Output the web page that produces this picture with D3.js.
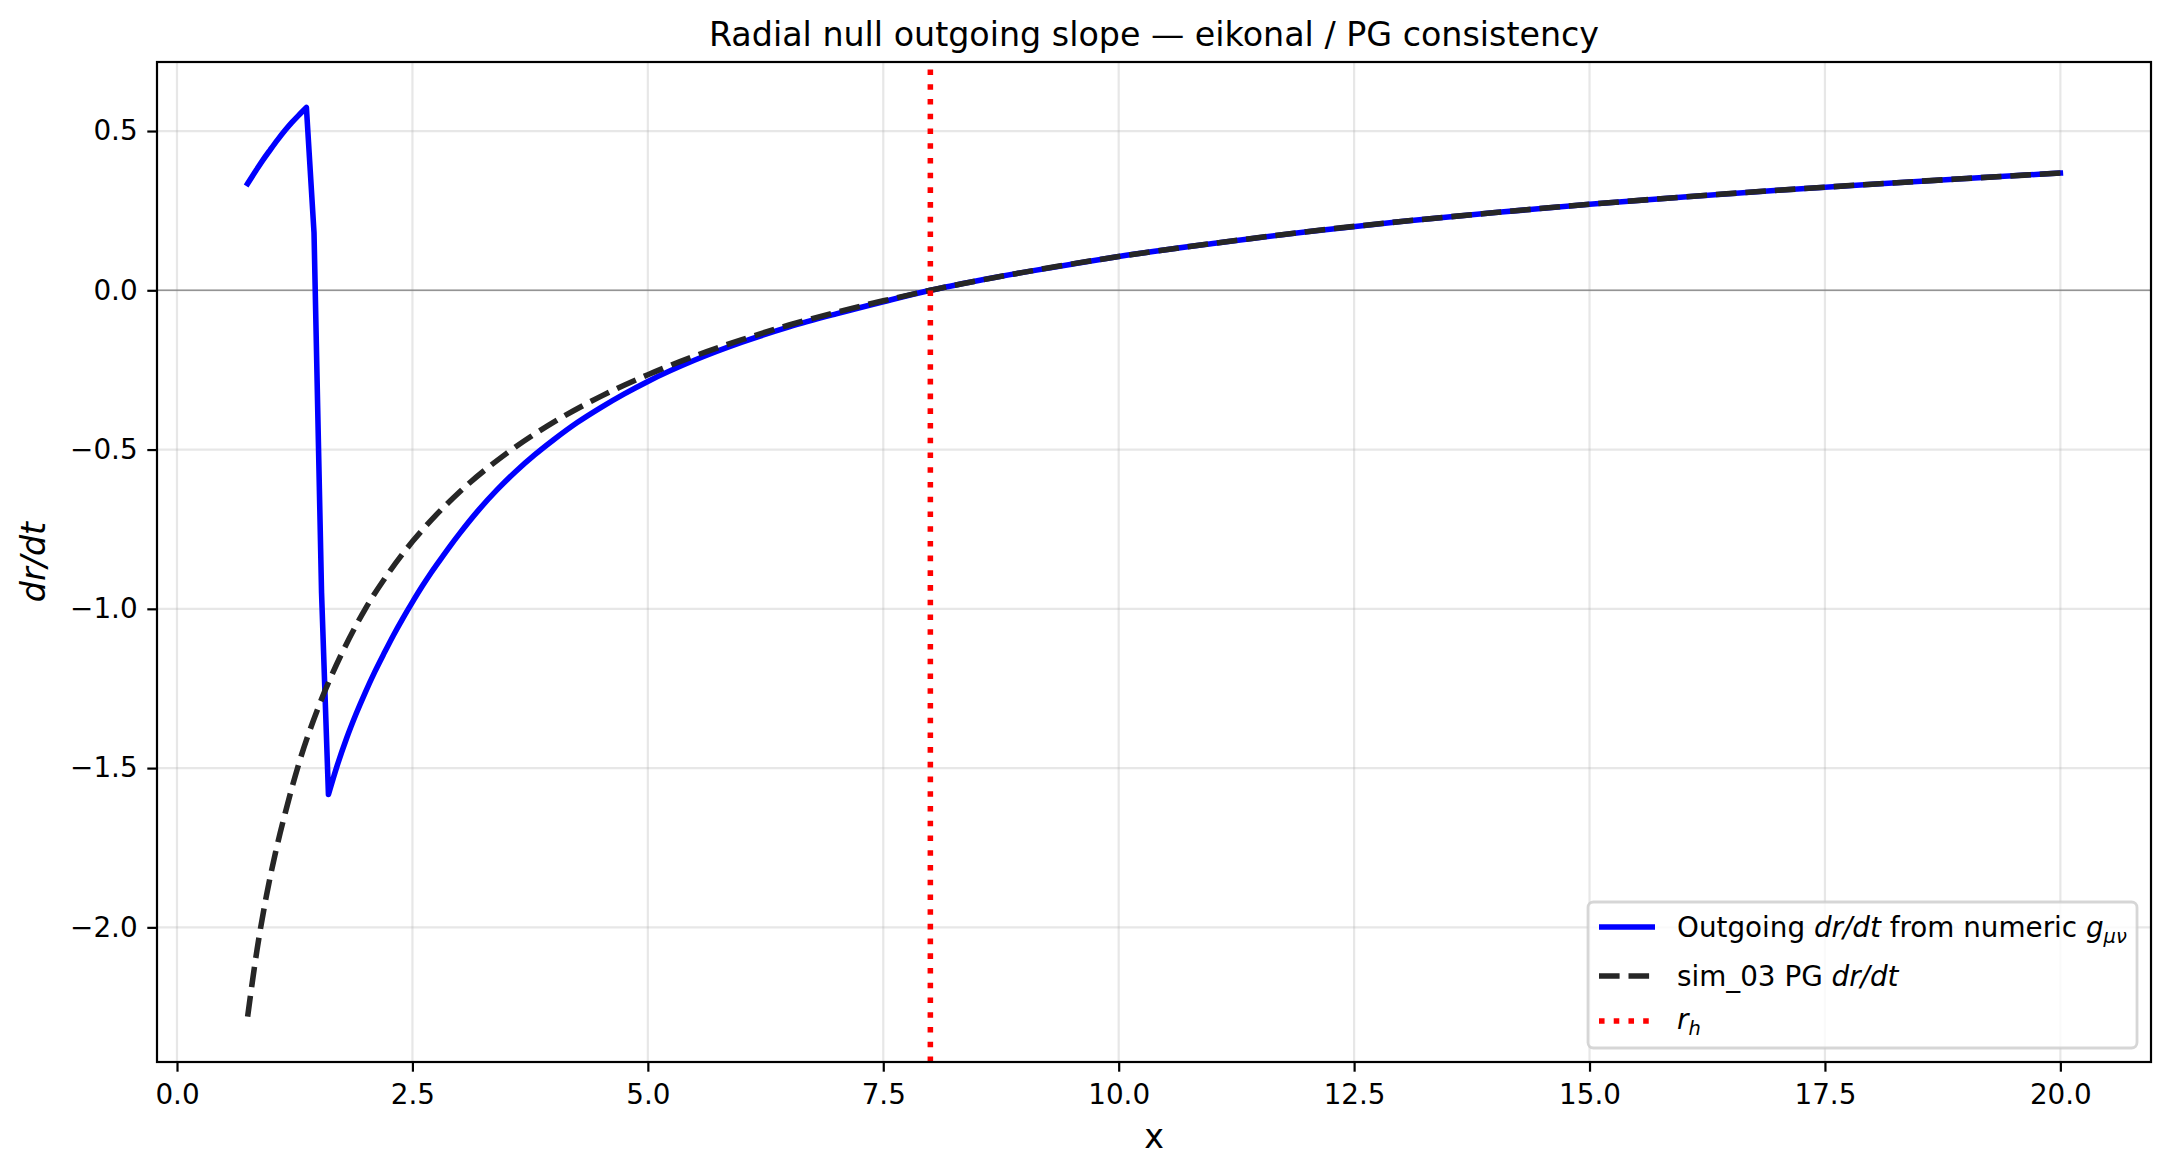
<!DOCTYPE html>
<html>
<head>
<meta charset="utf-8">
<script src="https://cdn.jsdelivr.net/npm/d3@7"></script>
<style>
  body { margin: 0; background: #fff; }
  svg text { font-family: "DejaVu Sans", sans-serif; fill: #000; }
</style>
</head>
<body>
<div id="chart"></div>
<script>
// Data

// outgoing dr/dt from the numeric metric (blue)
const blueX = [0.75, 0.83, 0.91, 0.99, 1.07, 1.15, 1.22, 1.30, 1.374,
  1.455, 1.535, 1.608,
  1.70, 1.80, 1.90, 2.00, 2.10, 2.20, 2.30, 2.40, 2.50,
  2.60, 2.70, 2.80, 2.90, 3.00, 3.20, 3.40, 3.60, 3.80, 4.00,
  4.25, 4.50, 4.75, 5.00, 5.50, 6.00, 6.50, 7.00, 7.50, 8.00,
  8.5, 9, 9.5, 10, 11, 12, 13, 14, 15, 16, 17, 18, 19, 20];
const blueY = [0.335, 0.372, 0.408, 0.441, 0.473, 0.503, 0.527, 0.552, 0.574,
  0.18, -0.95, -1.583,
  -1.493, -1.407, -1.331, -1.262, -1.198, -1.139, -1.082, -1.029, -0.979,
  -0.931, -0.886, -0.844, -0.803, -0.764, -0.691, -0.626, -0.568, -0.516, -0.469,
  -0.415, -0.368, -0.325, -0.286, -0.219, -0.163, -0.115, -0.074, -0.036, 0.0,
  0.030, 0.057, 0.082, 0.106, 0.147, 0.184, 0.216, 0.244, 0.270, 0.293, 0.314, 0.333, 0.351, 0.368];

// where the blue curve has sharp corners (peak and the bottom of the drop)
const bluePeakIndex = 8;
const blueDipIndex = 11;

// sim_03 PG dr/dt (dashed)
const pgX = [0.75, 0.85, 0.95, 1.05, 1.15, 1.3, 1.5, 1.75, 2.0,
  2.25, 2.5, 2.75, 3.0, 3.5, 4.0, 4.5, 5.0,
  5.5, 6.0, 6.5, 7.0, 7.5, 8.0,
  9, 10, 11, 12, 13, 14, 15, 16, 17, 18, 19, 20];
const pgY = [-2.28, -2.07, -1.90, -1.76, -1.64, -1.48, -1.31, -1.14, -1.00,
  -0.886, -0.789, -0.706, -0.633, -0.512, -0.414, -0.333, -0.265,
  -0.206, -0.155, -0.109, -0.069, -0.033, 0.0,
  0.057, 0.106, 0.147, 0.184, 0.216, 0.244, 0.270, 0.293, 0.314, 0.333, 0.351, 0.368];

const horizonR = 8.0;

const xTicks = [0, 2.5, 5, 7.5, 10, 12.5, 15, 17.5, 20];
const yTicks = [-2.0, -1.5, -1.0, -0.5, 0.0, 0.5];

const titleText = "Radial null outgoing slope \u2014 eikonal / PG consistency";

// Layout
const width = 2171;
const height = 1175;
const plot = { left: 157, right: 2151, top: 62, bottom: 1062 };

const svg = d3.select("#chart")
  .append("svg")
  .attr("width", width)
  .attr("height", height);

// matplotlib style 5% margins
function padded(vals) {
  const ext = d3.extent(vals);
  const m = (ext[1] - ext[0]) * 0.05;
  return [ext[0] - m, ext[1] + m];
}

const x = d3.scaleLinear()
  .domain(padded(blueX.concat(pgX)))
  .range([plot.left, plot.right]);

const y = d3.scaleLinear()
  .domain(padded(blueY.concat(pgY)))
  .range([plot.bottom, plot.top]);

const blueData = blueX.map((v, i) => ({ x: v, y: blueY[i] }));
const pgData = pgX.map((v, i) => ({ x: v, y: pgY[i] }));

// grid
const grid = svg.append("g").attr("class", "grid");
grid.selectAll("line.vx")
  .data(xTicks)
  .enter().append("line")
  .attr("x1", d => x(d)).attr("x2", d => x(d))
  .attr("y1", plot.top).attr("y2", plot.bottom)
  .attr("stroke", "#b0b0b0").attr("stroke-opacity", 0.3).attr("stroke-width", 2.2);
grid.selectAll("line.hy")
  .data(yTicks)
  .enter().append("line")
  .attr("x1", plot.left).attr("x2", plot.right)
  .attr("y1", d => y(d)).attr("y2", d => y(d))
  .attr("stroke", "#b0b0b0").attr("stroke-opacity", 0.3).attr("stroke-width", 2.2);

// zero line
svg.append("line")
  .attr("x1", plot.left).attr("x2", plot.right)
  .attr("y1", y(0)).attr("y2", y(0))
  .attr("stroke", "#808080").attr("stroke-opacity", 0.8).attr("stroke-width", 1.6);

svg.append("clipPath").attr("id", "clip")
  .append("rect")
  .attr("x", plot.left).attr("y", plot.top)
  .attr("width", plot.right - plot.left).attr("height", plot.bottom - plot.top);

const curves = svg.append("g").attr("clip-path", "url(#clip)");

const smooth = d3.line().curve(d3.curveMonotoneX).x(d => x(d.x)).y(d => y(d.y));
const straight = d3.line().x(d => x(d.x)).y(d => y(d.y));

// blue numeric curve: smooth pieces joined by straight segments at the corners
function bluePath(data) {
  const left = smooth(data.slice(0, bluePeakIndex + 1));
  const drop = straight(data.slice(bluePeakIndex, blueDipIndex + 1));
  const right = smooth(data.slice(blueDipIndex));
  return left + drop.replace(/^M/, "L") + right.replace(/^M/, "L");
}

curves.append("path")
  .datum(blueData)
  .attr("fill", "none")
  .attr("stroke", "#0000ff")
  .attr("stroke-width", 5.56)
  .attr("stroke-linejoin", "round")
  .attr("stroke-linecap", "square")
  .attr("d", bluePath);

// PG dashed curve
curves.append("path")
  .datum(pgData)
  .attr("fill", "none")
  .attr("stroke", "#262626")
  .attr("stroke-width", 5.56)
  .attr("stroke-dasharray", "20.6,8.9")
  .attr("stroke-linecap", "butt")
  .attr("d", smooth);

// horizon, drawn bottom to top like axvline
curves.append("line")
  .attr("x1", x(horizonR)).attr("x2", x(horizonR))
  .attr("y1", plot.bottom).attr("y2", plot.top)
  .attr("stroke", "#ff0000")
  .attr("stroke-width", 5.56)
  .attr("stroke-dasharray", "5.56,9.17");

// axes
const xAxis = d3.axisBottom(x)
  .tickValues(xTicks)
  .tickFormat(d3.format(".1f"))
  .tickSize(9.7)
  .tickPadding(13);

const yAxis = d3.axisLeft(y)
  .tickValues(yTicks)
  .tickFormat(d3.format(".1f"))
  .tickSize(9.7)
  .tickPadding(9.7);

const gx = svg.append("g")
  .attr("transform", `translate(0,${plot.bottom})`)
  .call(xAxis);
const gy = svg.append("g")
  .attr("transform", `translate(${plot.left},0)`)
  .call(yAxis);

[gx, gy].forEach(g => {
  g.select(".domain").remove();
  g.selectAll(".tick line").attr("stroke", "#000").attr("stroke-width", 2.2);
  g.selectAll(".tick text")
    .attr("font-family", "DejaVu Sans")
    .attr("font-size", 27.8)
    .attr("fill", "#000");
});

// spines
svg.append("rect")
  .attr("x", plot.left).attr("y", plot.top)
  .attr("width", plot.right - plot.left).attr("height", plot.bottom - plot.top)
  .attr("fill", "none")
  .attr("stroke", "#000")
  .attr("stroke-width", 2.2);

// title and labels
const midX = (plot.left + plot.right) / 2;
svg.append("text")
  .attr("x", midX).attr("y", 46)
  .attr("text-anchor", "middle")
  .attr("font-size", 33.3)
  .text(titleText);

svg.append("text")
  .attr("x", midX).attr("y", 1148)
  .attr("text-anchor", "middle")
  .attr("font-size", 33.3)
  .text("x");

svg.append("text")
  .attr("transform", `translate(45,${(plot.top + plot.bottom) / 2}) rotate(-90)`)
  .attr("text-anchor", "middle")
  .attr("font-size", 33.3)
  .attr("font-style", "italic")
  .text("dr/dt");

// legend
const legend = svg.append("g");
legend.append("rect")
  .attr("x", 1588).attr("y", 902)
  .attr("width", 549).attr("height", 146)
  .attr("rx", 5.5)
  .attr("fill", "#fff").attr("fill-opacity", 0.8)
  .attr("stroke", "#cccccc").attr("stroke-opacity", 0.8)
  .attr("stroke-width", 2.8);

const handleX1 = 1599;
const handleX2 = 1655;
const textX = 1677;
const legFont = 27.8;

legend.append("line")
  .attr("x1", handleX1).attr("x2", handleX2)
  .attr("y1", 927).attr("y2", 927)
  .attr("stroke", "#0000ff").attr("stroke-width", 5.56);
legend.append("line")
  .attr("x1", handleX1).attr("x2", handleX2)
  .attr("y1", 976).attr("y2", 976)
  .attr("stroke", "#262626").attr("stroke-width", 5.56)
  .attr("stroke-dasharray", "20.6,8.9");
legend.append("line")
  .attr("x1", handleX1).attr("x2", handleX2)
  .attr("y1", 1021).attr("y2", 1021)
  .attr("stroke", "#ff0000").attr("stroke-width", 5.56)
  .attr("stroke-dasharray", "5.56,9.17");

const t1 = legend.append("text")
  .attr("x", textX).attr("y", 937)
  .attr("font-size", legFont);
t1.append("tspan").text("Outgoing ");
t1.append("tspan").attr("font-style", "italic").text("dr/dt");
t1.append("tspan").text(" from numeric ");
t1.append("tspan").attr("font-style", "italic").text("g");
t1.append("tspan").attr("font-style", "italic")
  .attr("font-size", legFont * 0.7).attr("dy", 6).text("\u03bc\u03bd");

const t2 = legend.append("text")
  .attr("x", textX).attr("y", 986)
  .attr("font-size", legFont);
t2.append("tspan").text("sim_03 PG ");
t2.append("tspan").attr("font-style", "italic").text("dr/dt");

const t3 = legend.append("text")
  .attr("x", textX).attr("y", 1029)
  .attr("font-size", legFont);
t3.append("tspan").attr("font-style", "italic").text("r");
t3.append("tspan").attr("font-style", "italic")
  .attr("font-size", legFont * 0.7).attr("dy", 6).text("h");
</script>
</body>
</html>
